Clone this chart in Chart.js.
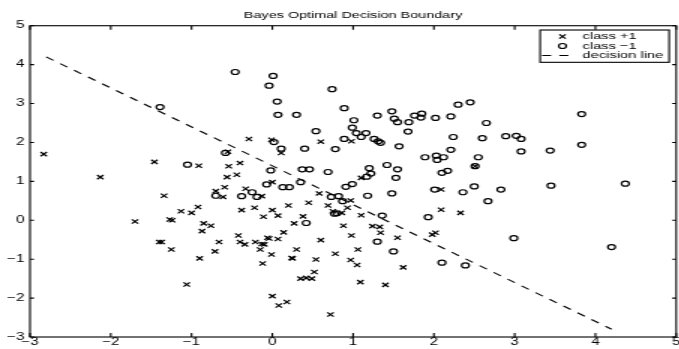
<!DOCTYPE html>
<html>
<head>
<meta charset="utf-8">
<script src="https://cdn.jsdelivr.net/npm/chart.js@4/dist/chart.umd.min.js"></script>
<style>
  html, body { margin: 0; padding: 0; background: #fff; overflow: hidden; width: 679px; height: 349px; }
  /* the figure is drawn narrow and widened horizontally, like the original export */
  #wrap { width: 456px; height: 349px; transform: scaleX(1.5); transform-origin: 0 0; }
</style>
</head>
<body>
<div id="wrap"><canvas id="c" width="456" height="349"></canvas></div>
<script>
// class +1 samples
const plusX = [-2.83,-2.13,-1.70,-1.46,-1.40,-1.37,-1.34,-1.27,-1.24,-1.25,-1.13,-1.06,-1.00,-0.92,-0.91,-0.90,-0.87,-0.85,-0.76,-0.71,
  -0.70,-0.66,-0.61,-0.59,-0.56,-0.55,-0.54,-0.44,-0.42,-0.40,-0.38,-0.40,-0.34,-0.33,-0.29,-0.22,-0.21,-0.15,-0.13,-0.12,
  -0.11,-0.10,-0.13,-0.06,-0.04,-0.01,-0.01,0.00,0.00,0.00,0.07,0.07,0.08,0.11,0.14,0.18,0.20,0.25,0.24,0.27,
  0.30,0.35,0.38,0.42,0.45,0.49,0.52,0.54,0.58,0.60,0.60,0.69,0.72,0.75,0.78,0.86,0.88,0.93,0.97,0.97,
  0.98,0.98,1.05,1.06,1.09,1.10,1.10,1.24,1.33,1.34,1.40,1.55,1.62,1.98,2.02,2.09,2.09,2.33,2.51];
const plusY = [1.70,1.11,-0.03,1.50,-0.56,-0.56,0.63,0.02,0.00,-0.75,0.23,-1.65,0.19,0.34,1.40,-0.98,-0.28,-0.08,-0.14,-0.80,
  0.75,-0.56,0.60,0.85,1.11,1.76,1.39,1.17,-0.39,1.47,0.26,-0.56,-0.62,0.81,2.09,0.32,-0.56,-0.75,0.62,-1.11,
  0.09,-0.62,-0.61,-0.45,-0.47,2.07,-0.88,0.98,0.26,-1.95,0.12,-0.48,-2.19,1.73,-0.31,-2.10,0.38,-0.98,-0.97,-0.08,
  -0.75,-1.50,0.10,-1.48,0.45,-1.50,-1.33,-1.01,0.69,2.02,-0.51,0.38,-2.42,0.23,-0.86,0.19,-0.14,0.32,0.51,-1.02,
  2.03,-0.39,-1.15,-0.75,-1.59,1.09,0.13,-0.15,-0.17,-0.32,-1.66,-0.45,-1.21,-0.37,-0.32,0.79,0.27,0.19,1.39];

// class -1 samples
const minusX = [-1.39,-1.05,-0.70,-0.58,-0.46,-0.38,-0.25,-0.19,-0.07,-0.04,-0.02,0.01,0.02,0.06,0.07,0.11,0.13,0.21,0.30,0.35,
  0.37,0.40,0.42,0.46,0.54,0.69,0.73,0.74,0.77,0.78,0.80,0.82,0.87,0.89,0.89,0.91,0.99,0.99,1.01,1.04,
  1.10,1.16,1.17,1.18,1.20,1.22,1.26,1.30,1.31,1.30,1.34,1.36,1.42,1.48,1.48,1.50,1.51,1.53,1.55,1.55,
  1.57,1.68,1.69,1.76,1.84,1.85,1.89,1.93,2.01,2.02,2.03,2.04,2.10,2.10,2.12,2.17,2.21,2.21,2.24,2.30,
  2.36,2.39,2.45,2.50,2.51,2.55,2.60,2.65,2.67,2.83,2.89,2.99,3.02,3.08,3.08,3.44,3.45,3.83,3.83,4.20,4.37];
const minusY = [2.91,1.43,0.63,1.73,3.81,0.62,0.72,0.60,0.92,3.46,1.28,3.71,2.01,3.05,2.71,1.84,0.85,0.85,2.71,0.98,
  1.31,1.84,-0.07,1.31,2.29,1.24,0.60,3.37,0.17,1.83,0.18,0.62,0.49,2.88,2.09,0.86,0.93,2.38,2.57,2.24,
  2.14,2.24,1.12,0.63,1.34,1.20,2.09,2.69,2.03,-0.55,1.99,0.12,1.42,2.80,0.69,-0.80,2.61,1.09,2.52,1.31,
  1.90,2.28,2.52,2.69,2.64,2.74,1.62,0.08,0.79,2.63,1.66,1.55,-1.09,1.22,1.62,1.27,2.67,1.81,2.14,2.97,
  0.72,-1.16,3.03,0.87,1.39,1.62,2.11,2.50,0.49,0.79,2.16,-0.46,2.17,2.09,1.77,1.79,0.89,2.73,1.94,-0.69,0.94];

// end points of the decision line
const lineX = [-2.8, 4.2];
const lineY = [4.2, -2.8];

// axis limits and tick values
const xTicks = [-3, -2, -1, 0, 1, 2, 3, 4, 5];
const yTicks = [-3, -2, -1, 0, 1, 2, 3, 4, 5];

const FONT = "'Liberation Sans', Arial, Helvetica, sans-serif";
const toPts = (xs, ys) => xs.map((x, i) => ({x, y: ys[i]}));
const minusSign = v => String(v).replace('-', '\u2212');

// axes box with inward tick marks on all four sides
const axesBox = {
  id: 'axesBox',
  afterDraw(chart) {
    const {ctx, chartArea: a, scales: {x, y}} = chart;
    ctx.save();
    ctx.strokeStyle = '#000';
    ctx.lineWidth = 1.1;
    ctx.beginPath();
    x.ticks.forEach(t => {
      const p = x.getPixelForValue(t.value);
      ctx.moveTo(p, a.bottom); ctx.lineTo(p, a.bottom - 4);
      ctx.moveTo(p, a.top); ctx.lineTo(p, a.top + 4);
    });
    y.ticks.forEach(t => {
      const p = y.getPixelForValue(t.value);
      ctx.moveTo(a.left, p); ctx.lineTo(a.left + 2.7, p);
      ctx.moveTo(a.right, p); ctx.lineTo(a.right - 2.7, p);
    });
    ctx.stroke();
    ctx.strokeRect(a.left, a.top, a.right - a.left, a.bottom - a.top);
    ctx.restore();
  }
};

// boxed legend in the upper right corner of the axes
const boxLegend = {
  id: 'boxLegend',
  afterDraw(chart) {
    const {ctx, chartArea: a} = chart;
    const w = 86, h = 32.3;
    const left = a.right - 4.7 - w, top = a.top + 4.3;
    const rows = [6.5, 16, 25.5];
    ctx.save();
    ctx.fillStyle = '#fff';
    ctx.fillRect(left, top, w, h);
    ctx.strokeStyle = '#000';
    ctx.lineWidth = 1.1;
    ctx.strokeRect(left, top, w, h);
    ctx.font = '9.8px ' + FONT;
    ctx.textBaseline = 'middle';
    ctx.textAlign = 'left';
    chart.data.datasets.forEach((ds, i) => {
      const cy = top + rows[i];
      ctx.strokeStyle = '#000';
      ctx.lineWidth = ds.borderWidth;
      if (ds.showLine) {
        ctx.setLineDash(ds.borderDash);
        ctx.beginPath();
        ctx.moveTo(left + 1.3, cy);
        ctx.lineTo(left + 21.3, cy);
        ctx.stroke();
        ctx.setLineDash([]);
      } else {
        ctx.fillStyle = 'rgba(0,0,0,0)';
        Chart.helpers.drawPoint(ctx, {pointStyle: ds.pointStyle, radius: ds.pointRadius, borderWidth: ds.borderWidth, rotation: 0}, left + 14.9, cy);
      }
      ctx.fillStyle = '#000';
      ctx.fillText(ds.label, left + 28.2, cy);
    });
    ctx.restore();
  }
};

Chart.defaults.color = '#000';
Chart.defaults.font.family = FONT;

new Chart(document.getElementById('c'), {
  type: 'scatter',
  data: {
    datasets: [
      {label: 'class +1', data: toPts(plusX, plusY), pointStyle: 'crossRot', pointRadius: 3,
       borderColor: '#000', backgroundColor: 'rgba(0,0,0,0)', borderWidth: 1.2},
      {label: 'class \u22121', data: toPts(minusX, minusY), pointStyle: 'circle', pointRadius: 2.5,
       borderColor: '#000', backgroundColor: 'rgba(0,0,0,0)', borderWidth: 1.2},
      {label: 'decision line', data: toPts(lineX, lineY), showLine: true, pointRadius: 0,
       borderColor: '#000', borderWidth: 1.1, borderDash: [6, 5.5], fill: false}
    ]
  },
  options: {
    responsive: false,
    animation: false,
    devicePixelRatio: 1,
    layout: {padding: {left: 0, right: 1.3, top: 0, bottom: 0}},
    plugins: {
      legend: {display: false},
      tooltip: {enabled: false},
      title: {
        display: true, fullSize: false,
        text: 'Bayes Optimal Decision Boundary',
        color: '#000',
        font: {family: FONT, size: 9.6, weight: 'normal', lineHeight: 1.2},
        padding: {top: 9.5, bottom: 4.7}
      }
    },
    scales: {
      x: {
        type: 'linear', min: -3, max: 5,
        afterBuildTicks: s => { s.ticks = xTicks.map(v => ({value: v})); },
        afterFit: s => { s.height = 12; s.paddingLeft = 0; s.paddingRight = 0; },
        grid: {display: false, drawTicks: false},
        border: {display: false},
        ticks: {color: '#000', font: {size: 10, lineHeight: 1}, padding: 0.5, maxRotation: 0, autoSkip: false, callback: minusSign}
      },
      y: {
        type: 'linear', min: -3, max: 5,
        afterBuildTicks: s => { s.ticks = yTicks.map(v => ({value: v})); },
        afterFit: s => { s.width = 20; s.paddingTop = 0; s.paddingBottom = 0; },
        grid: {display: false, drawTicks: false},
        border: {display: false},
        ticks: {color: '#000', font: {size: 10, lineHeight: 1}, padding: 3.8, autoSkip: false, callback: minusSign}
      }
    }
  },
  plugins: [axesBox, boxLegend]
});
</script>
</body>
</html>
